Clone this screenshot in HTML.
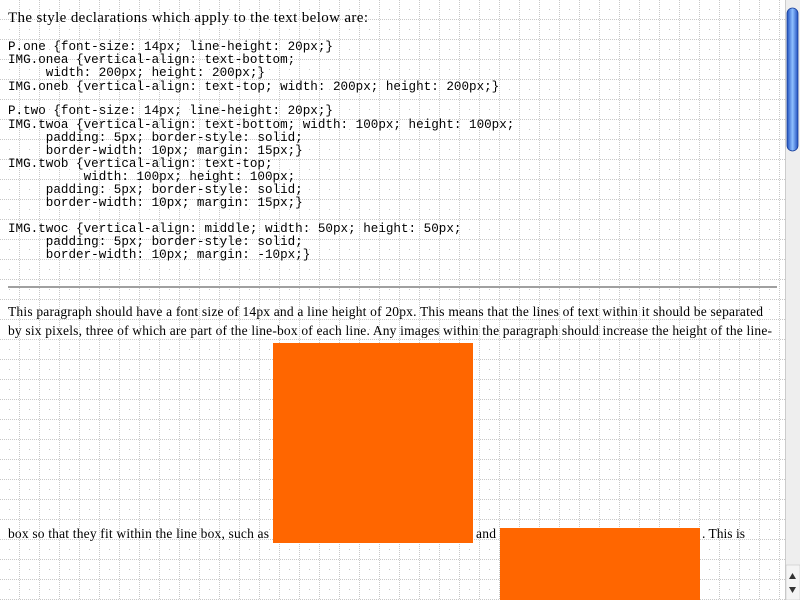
<!DOCTYPE html>
<html><head><meta charset="utf-8"><style>
html,body{margin:0;padding:0;width:800px;height:600px;overflow:hidden;background:#fff}
svg{display:block}
.s{font-family:"Liberation Serif",serif;font-size:13.5px;fill:#000}
.m{font-family:"Liberation Mono",monospace;font-size:12.6px;fill:#000;white-space:pre}
</style></head><body>
<svg width="800" height="600" xmlns="http://www.w3.org/2000/svg">
<defs>
<pattern id="g" width="20" height="20" patternUnits="userSpaceOnUse">
<rect width="20" height="20" fill="#fff"/>
<line x1="0" y1="19.5" x2="20" y2="19.5" stroke="#c8c8c8" stroke-dasharray="1,1"/>
<line x1="19.5" y1="0" x2="19.5" y2="20" stroke="#c8c8c8" stroke-dasharray="1,1"/>
<rect x="9" y="9" width="1" height="1" fill="#c8c8c8"/>
</pattern>
<linearGradient id="th" x1="0" x2="1"><stop offset="0" stop-color="#1f4fbf"/><stop offset="0.5" stop-color="#8fc0ff"/><stop offset="1" stop-color="#1f4fbf"/></linearGradient>
</defs>
<rect width="800" height="600" fill="url(#g)"/>
<text class="s" x="8" y="22" style="font-size:15px" textLength="360">The style declarations which apply to the text below are:</text>
<text class="m" x="8" y="50">P.one {font-size: 14px; line-height: 20px;}</text>
<text class="m" x="8" y="63">IMG.onea {vertical-align: text-bottom;</text>
<text class="m" x="8" y="76">     width: 200px; height: 200px;}</text>
<text class="m" x="8" y="90">IMG.oneb {vertical-align: text-top; width: 200px; height: 200px;}</text>
<text class="m" x="8" y="114">P.two {font-size: 14px; line-height: 20px;}</text>
<text class="m" x="8" y="128">IMG.twoa {vertical-align: text-bottom; width: 100px; height: 100px;</text>
<text class="m" x="8" y="141">     padding: 5px; border-style: solid;</text>
<text class="m" x="8" y="154">     border-width: 10px; margin: 15px;}</text>
<text class="m" x="8" y="167">IMG.twob {vertical-align: text-top;</text>
<text class="m" x="8" y="180">          width: 100px; height: 100px;</text>
<text class="m" x="8" y="193">     padding: 5px; border-style: solid;</text>
<text class="m" x="8" y="206">     border-width: 10px; margin: 15px;}</text>
<text class="m" x="8" y="232">IMG.twoc {vertical-align: middle; width: 50px; height: 50px;</text>
<text class="m" x="8" y="245">     padding: 5px; border-style: solid;</text>
<text class="m" x="8" y="258">     border-width: 10px; margin: -10px;}</text>
<rect x="8" y="286" width="769" height="2" fill="#a0a0a0"/>
<text class="s" x="8" y="316" textLength="755">This paragraph should have a font size of 14px and a line height of 20px. This means that the lines of text within it should be separated</text>
<text class="s" x="8" y="335" textLength="764">by six pixels, three of which are part of the line-box of each line. Any images within the paragraph should increase the height of the line-</text>
<rect x="273" y="343" width="200" height="200" fill="#ff6600"/>
<text class="s" x="8" y="538" textLength="261">box so that they fit within the line box, such as</text>
<text class="s" x="476" y="538" textLength="20">and</text>
<rect x="500" y="528" width="200" height="80" fill="#ff6600"/>
<text class="s" x="702" y="538" textLength="43">. This is</text>
<rect x="785" y="0" width="15" height="600" fill="#eee"/>
<rect x="785" y="0" width="1" height="600" fill="#ccc"/>
<rect x="787" y="8" width="11" height="143" rx="5.5" fill="url(#th)" stroke="#1a3f99" stroke-width="0.8"/>
<rect x="786" y="565" width="14" height="35" fill="#f4f4f4" stroke="#bbb" stroke-width="0.5"/>
<polygon points="789,579 796,579 792.5,573" fill="#333"/>
<polygon points="789,587 796,587 792.5,593" fill="#333"/>
</svg>
</body></html>
